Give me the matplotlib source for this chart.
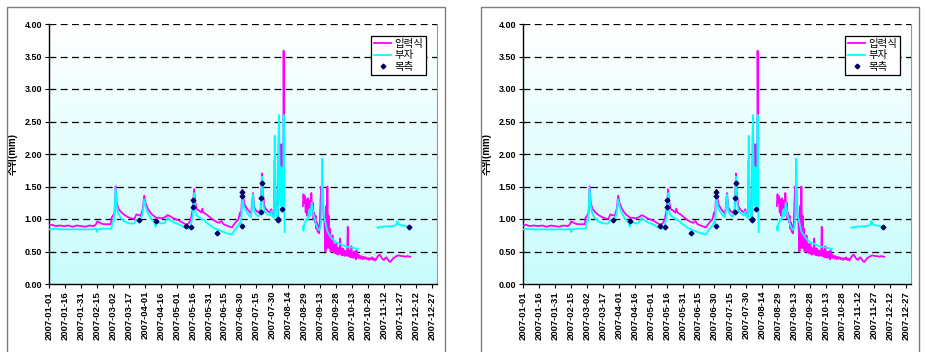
import numpy as np
import pandas as pd
import matplotlib
matplotlib.use("Agg")
import matplotlib.pyplot as plt
from matplotlib.colors import LinearSegmentedColormap
from matplotlib.lines import Line2D
from matplotlib.patches import Rectangle

plt.rcParams['font.family'] = ['Liberation Sans', 'Noto Sans CJK KR', 'DejaVu Sans']

# ---- data (x = days since 2007-01-01) ----
start = pd.Timestamp("2007-01-01")

# 입력식 (magenta)
calc_days = [0, 3, 6, 10, 14, 18, 22, 26, 30, 34, 38, 42, 44, 45, 47, 49, 51, 55, 58, 58.6, 60, 61.5, 62.5, 63.5,
             65, 68, 71, 74, 77, 80, 82, 84, 86, 88, 89.3, 90.5, 93, 96, 99, 100.3, 103, 106, 109, 111.5, 114,
             117, 120, 123, 125, 127, 129, 131, 133, 135, 136.3, 137.5, 139, 141, 143, 144, 145, 148, 151, 154,
             157, 160, 162, 164, 167, 170, 172, 174, 176, 178, 179.5, 180.5, 181.8, 183, 184, 186, 188, 190,
             191.8, 193, 195, 197, 199, 200.2, 201, 202.5, 204, 206, 208, 209, 210, 211.5, 212.2, 213, 214,
             215.2, 216.2, 217, 217.8, 218.5, 219.3, 220.3, 220.6, 221, 221.4,
             230,
             238.7, 239.3, 240, 240.7, 241.4, 242, 242.7, 243.4, 244, 244.7, 245.4, 246, 246.7, 247.4, 248, 248.7,
             249.4, 250, 250.7, 251.4, 252, 252.7, 253.4, 254, 254.7, 255.4, 256, 256.7, 257, 258, 259, 260,
             260.6, 261.2, 261.8, 262.4, 263, 263.6, 264.2, 264.8, 265.4, 266, 266.6, 267.2, 267.8, 268.4, 269,
             269.6, 270.2, 270.8, 271.4, 272, 272.6, 273.2, 273.8, 274.4, 275, 275.6, 276.2, 276.8, 277.4, 278,
             278.6, 279.2, 279.8, 280.4, 281, 281.5, 282, 282.6, 283.2, 283.8, 284.4, 285, 285.6, 286.2, 286.8,
             287.4, 288, 288.6, 289.2, 289.8, 290.4, 291, 292, 293, 294, 295, 296, 297, 298, 299, 300, 301, 302,
             303, 304, 305, 306, 307, 308, 309, 310, 311, 312, 313, 314, 315, 316, 317, 318, 319, 320, 321, 322,
             323, 324, 325, 327, 329, 331, 333, 335, 337, 339, 340]
calc_vals = [0.90, 0.91, 0.89, 0.90, 0.89, 0.90, 0.88, 0.90, 0.89, 0.88, 0.90, 0.89, 0.92, 0.96, 0.95, 0.93, 0.92,
             0.92, 0.92, 1.02, 1.05, 1.10, 1.50, 1.25, 1.16, 1.10, 1.06, 1.03, 1.01, 1.00, 1.07, 1.06, 1.05, 1.15,
             1.36, 1.25, 1.15, 1.08, 1.04, 1.02, 1.02, 1.01, 1.03, 1.06, 1.04, 1.01, 0.99, 0.97, 0.95, 0.93, 0.91,
             0.93, 0.98, 1.15, 1.46, 1.25, 1.15, 1.13, 1.10, 1.16, 1.10, 1.07, 1.03, 0.99, 0.96, 0.94, 0.97, 0.92,
             0.90, 0.88, 0.87, 0.92, 0.96, 0.99, 1.10, 1.05, 1.45, 1.30, 1.22, 1.16, 1.12, 1.08, 1.40, 1.18, 1.12,
             1.10, 1.15, 1.70, 1.40, 1.20, 1.15, 1.12, 1.10, 1.15, 1.07, 1.05, 1.90, 1.30, 1.10, 1.03, 2.55, 1.60,
             1.30, 2.15, 1.50, 1.25, 3.59, 2.00, 2.25,
             np.nan,
             1.20, 1.38, 1.25, 1.35, 1.10, 1.30, 1.05, 1.32, 1.15, 1.28, 1.05, 1.20, 1.40, 1.15, 1.25, 1.00, 1.10,
             0.95, 1.05, 0.85, 0.95, 0.80, 0.90, 0.78, 0.95, 1.30, 1.50, 1.20, 1.45, 1.10, 0.95, 0.50, 1.20, 0.55,
             1.50, 0.70, 1.05, 0.55, 0.85, 0.50, 0.65, 0.52, 0.75, 0.50, 0.62, 0.48, 0.58, 0.47, 0.62, 0.46, 0.56,
             0.45, 0.54, 0.47, 0.70, 0.46, 0.53, 0.44, 0.55, 0.45, 0.52, 0.43, 0.51, 0.45, 0.50, 0.43, 0.88, 0.45,
             0.52, 0.42, 0.50, 0.41, 0.58, 0.42, 0.48, 0.40, 0.50, 0.41, 0.47, 0.38, 0.52, 0.41, 0.46, 0.40, 0.44,
             0.39, 0.43, 0.38, 0.42, 0.39, 0.41, 0.38, 0.40, 0.37, 0.40, 0.38, 0.41, 0.37, 0.39, 0.36, 0.39, 0.42,
             0.44, 0.45, 0.43, 0.40, 0.38, 0.37, 0.39, 0.41, 0.40, 0.37, 0.35, 0.34, 0.36, 0.38, 0.40, 0.41, 0.43,
             0.44, 0.43, 0.43, 0.42, 0.43, 0.42, 0.42]

# 부자 (cyan)
float_days = [0, 5, 10, 20, 30, 40, 44, 45, 46, 50, 55, 58.6, 59.5, 61, 62.5, 63.5, 65, 68, 71, 74, 77, 80, 82, 84,
              86, 88, 89.3, 90.5, 93, 96, 99, 100, 101, 104, 107, 109, 111.5, 114, 117, 120, 123, 126, 129, 131,
              133, 135, 136.3, 137.5, 139, 141, 143, 146, 149, 152, 155, 158, 161, 164, 167, 170, 172, 174, 176,
              178, 179.5, 180.5, 181.8, 183, 184, 186, 188, 190, 191.8, 193, 195, 197, 199, 200.2, 201, 202.5,
              204, 206, 208, 209, 210, 211.5, 212.2, 213, 214, 215.2, 216.2, 217, 217.8, 218.5, 219.3, 220.3,
              220.6, 221, 221.6,
              230,
              238.7, 239.3, 240, 241, 242, 243, 244, 245, 246, 247, 248, 249, 250, 251, 252, 253, 254, 255, 256,
              257, 257.7, 258.5, 259.5, 260.5, 262, 264, 266, 268, 270, 273, 276, 279, 282, 285, 288, 290.5,
              300,
              309, 310, 311, 313, 315, 317, 319, 321, 323, 325, 327, 327.6, 328.5, 330, 332, 334, 336, 338, 339]
float_vals = [0.84, 0.85, 0.84, 0.84, 0.84, 0.84, 0.85, 0.80, 0.84, 0.85, 0.85, 0.85, 0.95, 0.97, 1.48, 1.20,
              1.08, 1.00, 0.96, 0.94, 0.93, 0.93, 0.99, 0.98, 0.99, 1.10, 1.30, 1.20, 1.08, 1.00, 0.95, 0.88,
              0.95, 0.94, 0.93, 0.95, 1.02, 0.98, 0.95, 0.93, 0.91, 0.88, 0.86, 0.85, 0.88, 1.05, 1.40, 1.10,
              1.05, 1.03, 1.00, 0.98, 0.93, 0.90, 0.86, 0.84, 0.82, 0.80, 0.78, 0.77, 0.76, 0.82, 0.86, 0.90,
              0.95, 0.92, 1.38, 1.20, 1.15, 1.10, 1.05, 1.03, 1.38, 1.12, 1.06, 1.04, 1.10, 1.65, 1.30, 1.12,
              1.10, 1.07, 1.06, 1.12, 1.04, 1.02, 2.28, 1.40, 1.05, 1.00, 2.60, 1.50, 1.20, 1.80, 1.30, 1.20,
              2.60, 1.40, 0.80,
              np.nan,
              0.88, 0.82, 0.92, 0.95, 1.00, 0.98, 1.05, 1.15, 1.05, 1.25, 1.15, 1.05, 1.00, 0.92, 0.88, 0.85,
              0.83, 0.86, 0.95, 1.93, 1.30, 1.05, 0.98, 0.90, 0.80, 0.75, 0.70, 0.67, 0.64, 0.62, 0.60, 0.58,
              0.57, 0.56, 0.55, 0.54,
              np.nan,
              0.87, 0.86, 0.88, 0.87, 0.89, 0.88, 0.89, 0.88, 0.89, 0.90, 0.91, 0.97, 0.93, 0.91, 0.90, 0.90,
              0.89, 0.88, 0.88]

# 목측 (observed)
obs_days = [84.6, 100.3, 128.5, 133.2, 135.4, 135.4, 158.3, 181.4, 181.4, 181.4, 199.2, 199.6, 200.2,
            215.3, 215.6, 219.4, 338.6]
obs_vals = [0.98, 0.97, 0.90, 0.87, 1.30, 1.19, 0.79, 1.42, 1.35, 0.89, 1.11, 1.32, 1.56,
            1.00, 0.98, 1.16, 0.88]

tick_days = list(range(0, 361, 15))
tick_labels = [(start + pd.Timedelta(days=d)).strftime("%Y-%m-%d") for d in tick_days]

W, H = 925, 352
fig = plt.figure(figsize=(W / 100, H / 100), dpi=100)

bg = LinearSegmentedColormap.from_list("bg", ["#ffffff", "#c8fcfc"])
grad = np.linspace(0, 1, 256).reshape(-1, 1)   # row 0 at top -> white


def draw_panel(x_off):
    # outer frame of the panel
    fig.patches.append(Rectangle(((x_off + 7) / W, -0.02), 438 / W, 1 - 7 / H + 0.02,
                                 transform=fig.transFigure, fill=False,
                                 edgecolor="#7f7f7f", lw=1.0))
    ax = fig.add_axes([(x_off + 49.3) / W, 68 / H, 387.7 / W, 260 / H])
    ax.imshow(grad, cmap=bg, aspect="auto", extent=[0, 1, 0, 1],
              transform=ax.transAxes, zorder=0)

    ax.plot(calc_days, calc_vals, color="#ff00ff", lw=1.3, zorder=3)
    ax.plot(float_days, float_vals, color="#00ffff", lw=1.3, zorder=4)
    ax.plot(obs_days, obs_vals, "D", color="#000066", ms=2.4, zorder=5)

    ax.set_xlim(0, 365)
    ax.set_ylim(0, 4)
    ax.set_yticks(np.arange(0, 4.01, 0.5))
    ax.set_yticklabels([f"{v:.2f}" for v in np.arange(0, 4.01, 0.5)],
                       fontsize=6.5, fontweight="bold")
    ax.set_xticks(tick_days)
    ax.set_xticklabels(tick_labels, rotation=90, fontsize=6.8, fontweight="bold")
    ax.tick_params(axis="both", length=3, width=0.8, pad=2, direction="out")

    for y in np.arange(0.5, 4.01, 0.5):
        ax.axhline(y, color="black", lw=0.9, dashes=(5.5, 3.5), zorder=2)

    ax.spines["top"].set_visible(False)
    ax.spines["right"].set_color("#999999")
    ax.spines["left"].set_linewidth(1.0)
    ax.spines["bottom"].set_linewidth(1.0)

    ax.set_ylabel("수위(mm)", fontsize=7, fontweight="bold")
    ax.yaxis.set_label_coords(-0.081, 0.5)

    handles = [Line2D([], [], color="#ff00ff", lw=1.3),
               Line2D([], [], color="#00ffff", lw=1.3),
               Line2D([], [], ls="none", marker="D", color="#000066", ms=2.4)]
    leg = ax.legend(handles, ["입력식", "부자", "목측"], loc="upper right",
                    bbox_to_anchor=(0.972, 0.955), fontsize=7.5, frameon=True,
                    fancybox=False, framealpha=1, edgecolor="black",
                    handlelength=1.6, handletextpad=0.3, borderpad=0.3,
                    labelspacing=0.15, borderaxespad=0)
    leg.get_frame().set_linewidth(0.9)
    return ax


draw_panel(0)
draw_panel(474)

fig.savefig("out.png", dpi=100)
